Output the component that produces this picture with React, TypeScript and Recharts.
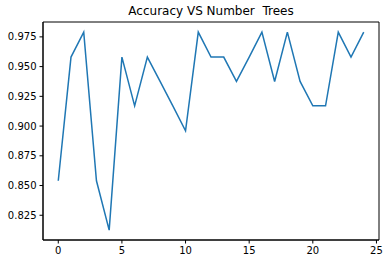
import React from 'react';
import { LineChart, Line, XAxis, YAxis, ReferenceArea } from 'recharts';

const trees = [0, 1, 2, 3, 4, 5, 6, 7, 8, 9, 10, 11, 12, 13, 14, 15, 16, 17, 18, 19, 20, 21, 22, 23, 24];
const accuracy = [
  0.854, 0.958, 0.979, 0.854, 0.8125, 0.958, 0.917, 0.958, 0.9375, 0.917, 0.896, 0.979, 0.958,
  0.958, 0.9375, 0.958, 0.979, 0.9375, 0.979, 0.9375, 0.917, 0.917, 0.979, 0.958, 0.979,
];
const xTicks = [0, 5, 10, 15, 20, 25];
const yTicks = [0.825, 0.85, 0.875, 0.9, 0.925, 0.95, 0.975];

const data = trees.map((t, i) => ({ trees: t, accuracy: accuracy[i] }));

const font = { fontFamily: 'DejaVu Sans', fontSize: 10, fill: '#000' };

const App = () => {
  return (
    <div style={{ position: 'absolute', left: 0, top: 0, width: 388, height: 264, background: '#fff' }}>
      <div
        style={{
          position: 'absolute',
          left: 43,
          width: 336,
          top: 4,
          textAlign: 'center',
          fontFamily: 'DejaVu Sans',
          fontSize: 12,
          whiteSpace: 'pre',
          color: '#000',
        }}
      >
        Accuracy VS Number  Trees
      </div>
      <LineChart width={388} height={264} data={data} margin={{ top: 22, right: 9, bottom: 0, left: 0 }}>
        <XAxis
          dataKey="trees"
          type="number"
          domain={[-1.2, 25.2]}
          ticks={xTicks}
          allowDataOverflow
          height={24}
          tickSize={3.5}
          tickMargin={3}
          stroke="#000"
          tick={font}
        />
        <YAxis
          type="number"
          domain={[0.8042, 0.9875]}
          ticks={yTicks}
          allowDataOverflow
          width={43}
          tickSize={3.5}
          tickMargin={3}
          stroke="#000"
          tick={font}
          tickFormatter={(v) => v.toFixed(3)}
        />
        <ReferenceArea
          x1={-1.2}
          x2={25.2}
          y1={0.8042}
          y2={0.9875}
          fill="none"
          fillOpacity={0}
          stroke="#000"
          strokeWidth={1}
          ifOverflow="visible"
        />
        <Line
          dataKey="accuracy"
          stroke="#1f77b4"
          strokeWidth={1.5}
          dot={false}
          isAnimationActive={false}
        />
      </LineChart>
    </div>
  );
};

export default App;
